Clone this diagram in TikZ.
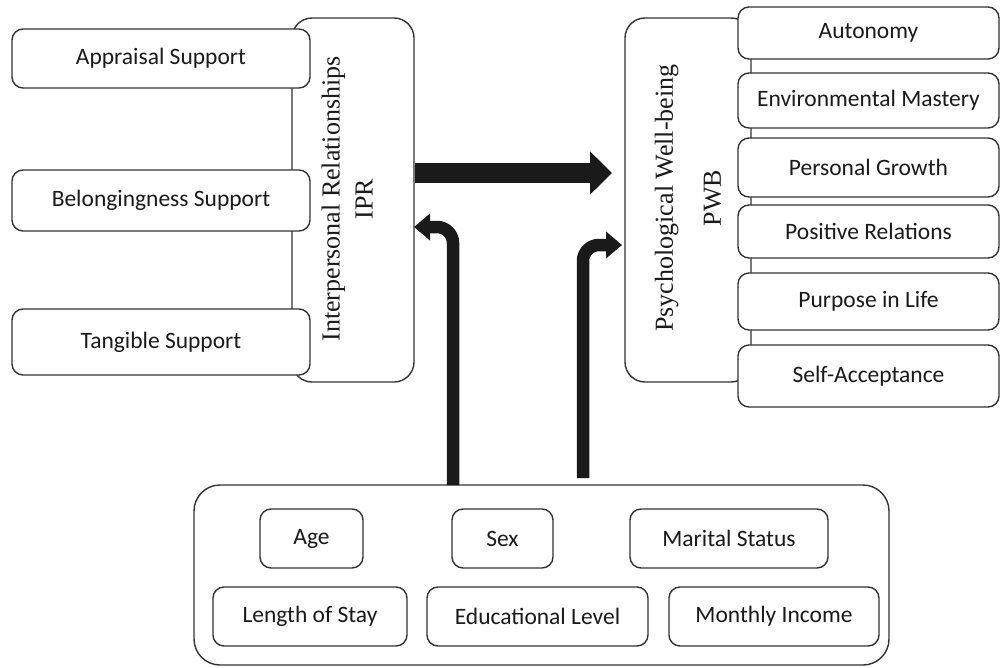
\documentclass[tikz,border=0pt]{standalone}
\usepackage{fontspec}
\setmainfont{Liberation Serif}
\newfontfamily\boxfont{Carlito}
\usetikzlibrary{arrows.meta}
\definecolor{edge}{HTML}{333333}
\definecolor{ink}{HTML}{1A1A1A}
\begin{document}
\begin{tikzpicture}[x=1pt,y=-1pt,
  bigbox/.style={draw=edge, line width=1.4, fill=white, rounded corners=20, inner sep=0pt},
  smallbox/.style={draw=edge, line width=1.4, fill=white, rounded corners=11, inner sep=0pt,
    text=ink, font=\boxfont\fontsize{23.5}{27}\selectfont},
  sidelabel/.style={rotate=90, align=center, text=ink, inner sep=0pt},
  bigarrow/.style={line width=20, -{Triangle[length=22pt,width=42pt]}, ink},
  bentarrow/.style={line width=12.5, rounded corners=16, -{Triangle[length=16pt,width=26pt]}, ink}]
\useasboundingbox (0,0) rectangle (1001,667);

% containers
\node[bigbox, minimum width=122, minimum height=364] (ipr) at (353,200) {};
\node[bigbox, minimum width=126, minimum height=364] (pwb) at (688,200) {};
\node[bigbox, rounded corners=26, minimum width=695, minimum height=180] (bot) at (541.5,575) {};

% container labels
\node[sidelabel, font=\fontsize{26}{33}\selectfont] (iprlabel) at (347,199)
  {Interpersonal Relationships\\IPR};
\node[sidelabel, font=\fontsize{26}{48}\selectfont] (pwblabel) at (688,198)
  {Psychological Well-being\\PWB};

% IPR dimensions
\node[smallbox, minimum width=298, minimum height=59] (app) at (161,58.5) {Appraisal Support};
\node[smallbox, minimum width=298, minimum height=61] (bel) at (161,200.5) {Belongingness Support};
\node[smallbox, minimum width=298, minimum height=66] (tan) at (161,342) {Tangible Support};

% PWB dimensions
\node[smallbox, minimum width=261, minimum height=52] (aut) at (868.5,33) {Autonomy};
\node[smallbox, minimum width=261, minimum height=55] (env) at (868.5,100.5) {Environmental Mastery};
\node[smallbox, minimum width=261, minimum height=59] (pgr) at (868.5,167.5) {Personal Growth};
\node[smallbox, minimum width=261, minimum height=53] (prl) at (868.5,231.5) {Positive Relations};
\node[smallbox, minimum width=261, minimum height=57] (pil) at (868.5,301.5) {Purpose in Life};
\node[smallbox, minimum width=261, minimum height=62] (sac) at (868.5,376) {Self-Acceptance};

% demographic variables
\node[smallbox, minimum width=103, minimum height=59] (age) at (311.5,538.5) {Age};
\node[smallbox, minimum width=101, minimum height=59] (sex) at (502.5,538.5) {Sex};
\node[smallbox, minimum width=198, minimum height=59] (mar) at (729,538.5) {Marital Status\hspace{20pt}};
\node[smallbox, minimum width=194, minimum height=59] (los) at (310,616.5) {Length of Stay};
\node[smallbox, minimum width=221, minimum height=59] (edu) at (537.5,616.5) {Educational Level\hspace{12pt}};
\node[smallbox, minimum width=210, minimum height=59] (inc) at (774,616.5) {Monthly Income};

% arrows
\coordinate (bigtip) at (612,173);
\draw[bigarrow] (ipr.east |- bigtip) -- (bigtip);

\coordinate (lstart) at (453,485);
\coordinate (ltip) at (414,227);
\draw[bentarrow] (lstart) |- (ltip);

\coordinate (rstart) at (583,478);
\coordinate (rtip) at (622,245);
\draw[bentarrow] (rstart) |- (rtip);
\end{tikzpicture}
\end{document}
